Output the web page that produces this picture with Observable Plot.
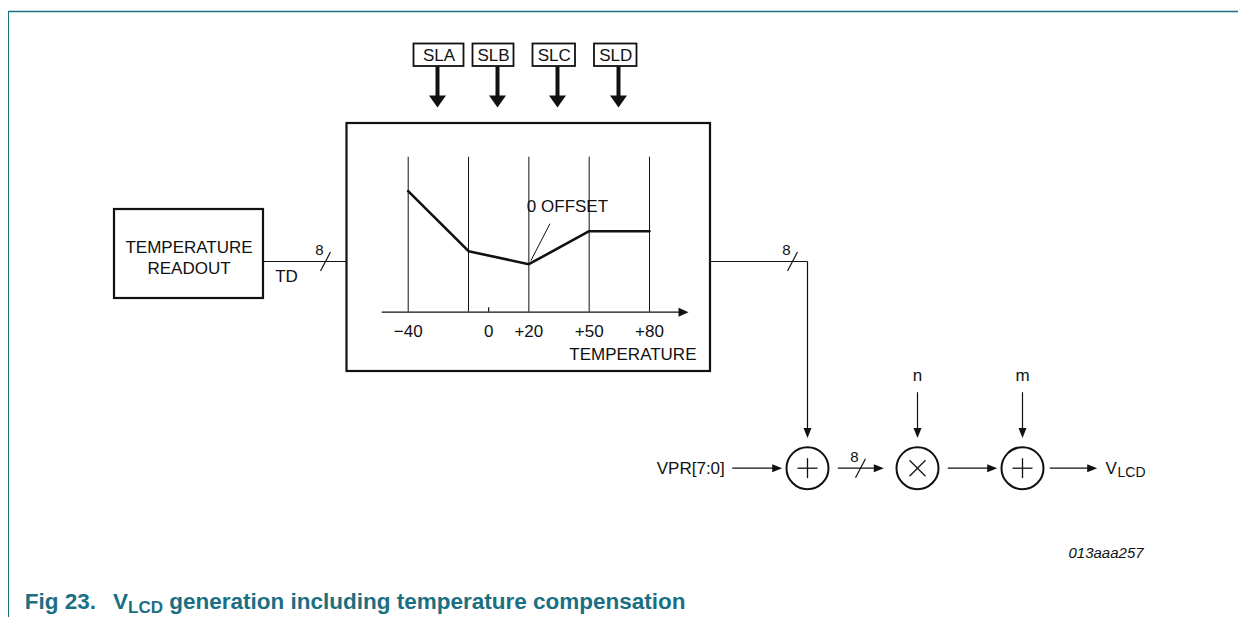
<!DOCTYPE html>
<html>
<head>
<meta charset="utf-8">
<script src="https://cdn.jsdelivr.net/npm/d3@7"></script>
<script src="https://cdn.jsdelivr.net/npm/@observablehq/plot@0.6"></script>
<style>
  body { margin: 0; background: #fff; }
  #wrap { position: relative; width: 1238px; height: 617px; overflow: hidden; font-family: "Liberation Sans", Arial, Helvetica, sans-serif; }
  #outer { position: absolute; left: 0; top: 0; }
  #inner { position: absolute; left: 350px; top: 140px; }
  #leftRule { position: absolute; left: 8.25px; top: 11px; width: 0; height: 606px; border-left: 1.5px solid #1b6f82; }
  #caption { position: absolute; left: 9.75px; top: 585px; height: 32px; box-sizing: border-box;
             padding: 6px 0 0 15px; color: #1b6f82;
             font-weight: bold; font-size: 22.5px; line-height: 22px; white-space: nowrap; }
  #caption .sub { font-size: 17px; position: relative; top: 4px; }
  #caption .gap { display: inline-block; width: 17px; }
</style>
</head>
<body>
<div id="wrap">
  <div id="outer"></div>
  <div id="inner"></div>
  <div id="leftRule"></div>
  <div id="caption">Fig 23.<span class="gap"></span>V<span class="sub">LCD</span> generation including temperature compensation</div>
</div>
<script>
// ---------------- data ----------------
const slLabels = ["SLA", "SLB", "SLC", "SLD"];
const readoutLabel = "TEMPERATURE\nREADOUT";
const busLabel = "TD";
const busWidths = ["8", "8", "8"];
const inputLabels = ["VPR[7:0]", "n", "m"];
const operators = ["plus", "times", "plus"];
const outputLabel = ["V", "LCD"];
const figureId = "013aaa257";

// compensation curve: breakpoints (°C) and offset (arbitrary units)
const tempBreaks = [-40, -10, 20, 50, 80];
const compensation = [121, 61, 48, 81, 81];
const tempTicks = [-40, 0, 20, 50, 80];
const tempTickLabels = ["\u221240", "0", "+20", "+50", "+80"];
const axisTitle = "TEMPERATURE";
const zeroOffsetLabel = "0 OFFSET";

// ---------------- layout (pixels) ----------------
const INK = "#111";
const TEAL = "#1b6f82";
const FONT = '"Liberation Sans", Arial, Helvetica, sans-serif';
const W = 1238, H = 585;

const slBoxX1 = [413.5, 472.5, 532.5, 594];
const slBoxX2 = [463.5, 513.5, 575, 636.5];
const slArrowX = [437, 497, 557, 618];
const slBoxY1 = 43.5, slBoxY2 = 66, slTipY = 107;

const mainBox = {x1: 346.5, y1: 123, x2: 710, y2: 371};
const readBox = {x1: 114, y1: 209, x2: 263, y2: 298};
const busY = 261, rowY = 467.7, outX = 807;
const opX = [807, 917, 1022];
const opR = 21;

const slTable = slLabels.map((s, i) => ({label: s, x1: slBoxX1[i], x2: slBoxX2[i], y1: slBoxY1, y2: slBoxY2, ax: slArrowX[i], cx: (slBoxX1[i] + slBoxX2[i]) / 2}));
const boxes = [mainBox, readBox];

const wires = [
  {x1: readBox.x2, y1: busY, x2: mainBox.x1, y2: busY},
  {x1: mainBox.x2, y1: busY, x2: outX, y2: busY},
  {x1: outX, y1: busY, x2: outX, y2: 430},
  {x1: 731.7, y1: rowY, x2: 775, y2: rowY},
  {x1: 837.3, y1: rowY, x2: 876, y2: rowY},
  {x1: 947.3, y1: rowY, x2: 990, y2: rowY},
  {x1: 1049.3, y1: rowY, x2: 1090, y2: rowY},
  {x1: opX[1], y1: 391.7, x2: opX[1], y2: 430},
  {x1: opX[2], y1: 391.7, x2: opX[2], y2: 430}
];

function tri(tx, ty, dir, L, Wd, id) {
  if (dir === "right") return [[tx, ty], [tx - L, ty - Wd], [tx - L, ty + Wd]].map(p => ({x: p[0], y: p[1], id}));
  return [[tx, ty], [tx - Wd, ty - L], [tx + Wd, ty - L]].map(p => ({x: p[0], y: p[1], id}));
}
const heads = [
  ...tri(781.7, rowY, "right", 10, 4, "h1"),
  ...tri(883.3, rowY, "right", 10, 4, "h2"),
  ...tri(996.7, rowY, "right", 10, 4, "h3"),
  ...tri(1096.7, rowY, "right", 10, 4, "h4"),
  ...tri(outX, 437.5, "down", 10, 4, "h5"),
  ...tri(opX[1], 437.5, "down", 10, 4, "h6"),
  ...tri(opX[2], 437.5, "down", 10, 4, "h7"),
  ...slTable.flatMap((d, i) => tri(d.ax, slTipY, "down", 12, 8.5, "s" + i))
];

const slashCenters = [{cx: 325, cy: busY}, {cx: 792, cy: busY}, {cx: 860, cy: rowY}];
const slashes = slashCenters.map(d => ({x1: d.cx - 5, y1: d.cy + 9.5, x2: d.cx + 5, y2: d.cy - 9.5}));
const slashLabels = slashCenters.map((d, i) => ({x: d.cx - 6, y: d.cy - 11.5, t: busWidths[i]}));

const ops = operators.map((o, i) => ({op: o, x: opX[i], y: rowY}));
const opStrokes = ops.flatMap(d => d.op === "plus"
  ? [{x1: d.x - 10, y1: d.y, x2: d.x + 10, y2: d.y}, {x1: d.x, y1: d.y - 10, x2: d.x, y2: d.y + 10}]
  : [{x1: d.x - 8, y1: d.y - 8, x2: d.x + 8, y2: d.y + 8}, {x1: d.x - 8, y1: d.y + 8, x2: d.x + 8, y2: d.y - 8}]);

const sideInputs = [
  {x: opX[1], y: 375, t: inputLabels[1]},
  {x: opX[2], y: 375, t: inputLabels[2]}
];

const outer = Plot.plot({
  width: W, height: H,
  marginTop: 0, marginRight: 0, marginBottom: 0, marginLeft: 0,
  x: {domain: [0, W], range: [0, W], axis: null},
  y: {domain: [0, H], range: [0, H], axis: null},
  style: {fontFamily: FONT, fontSize: "17px", background: "white", color: INK},
  marks: [
    // frame (top rule; left rule is drawn by the page so it runs past the caption)
    Plot.ruleY([11], {x1: 8.25, x2: W, stroke: TEAL, strokeWidth: 1.5}),
    // blocks
    Plot.rect(boxes, {x1: "x1", y1: "y1", x2: "x2", y2: "y2", fill: "white", stroke: INK, strokeWidth: 2.2}),
    Plot.rect(slTable, {x1: "x1", y1: "y1", x2: "x2", y2: "y2", fill: "white", stroke: INK, strokeWidth: 1.8}),
    Plot.text(slTable, {x: "cx", y: 55, text: "label", fontSize: 17, fill: INK}),
    Plot.link(slTable, {x1: "ax", y1: slBoxY2, x2: "ax", y2: slTipY - 10, stroke: INK, strokeWidth: 4}),
    Plot.text([readoutLabel], {x: (readBox.x1 + readBox.x2) / 2, y: 256.5, text: d => d, fontSize: 17, lineHeight: 1.22, fill: INK}),
    // wires
    Plot.link(wires, {x1: "x1", y1: "y1", x2: "x2", y2: "y2", stroke: INK, strokeWidth: 1.2}),
    Plot.line(heads, {x: "x", y: "y", z: "id", fill: INK, stroke: "none", curve: "linear-closed"}),
    Plot.link(slashes, {x1: "x1", y1: "y1", x2: "x2", y2: "y2", stroke: INK, strokeWidth: 1.2}),
    Plot.text(slashLabels, {x: "x", y: "y", text: "t", fontSize: 15, fill: INK}),
    Plot.text([busLabel], {x: 286, y: 276, text: d => d, fontSize: 17, fill: INK}),
    // operators
    Plot.dot(ops, {x: "x", y: "y", r: opR, fill: "white", stroke: INK, strokeWidth: 2}),
    Plot.link(opStrokes, {x1: "x1", y1: "y1", x2: "x2", y2: "y2", stroke: INK, strokeWidth: 1.3}),
    Plot.text([inputLabels[0]], {x: 724.3, y: rowY, text: d => d, textAnchor: "end", fontSize: 17, fill: INK}),
    Plot.text(sideInputs, {x: "x", y: "y", text: "t", fontSize: 17, fill: INK}),
    Plot.text([outputLabel[0]], {x: 1105, y: rowY, text: d => d, textAnchor: "start", fontSize: 17, fill: INK}),
    Plot.text([outputLabel[1]], {x: 1117, y: rowY + 4.5, text: d => d, textAnchor: "start", fontSize: 14, fill: INK}),
    Plot.text([figureId], {x: 1068, y: 552.7, text: d => d, textAnchor: "start", fontSize: 15, fontStyle: "italic", fill: INK})
  ]
});
document.getElementById("outer").appendChild(outer);

// ---------------- inner compensation chart ----------------
const curve = tempBreaks.map((t, i) => ({t, v: compensation[i]}));
const tickLabel = new Map(tempTicks.map((t, i) => [t, tempTickLabels[i]]));
const xr = [57.7, 299];                 // pixel range for -40 .. +80 inside inner svg
const pxPerDeg = (xr[1] - xr[0]) / 120;
const axisStart = -40 - 26 / pxPerDeg;  // axis line begins 26 px left of -40
const axisTip = 80 + 39 / pxPerDeg;     // arrow tip 39 px right of +80
const arrowHead = [[axisTip, 0], [axisTip - 10 / pxPerDeg, 4.5], [axisTip - 10 / pxPerDeg, -4.5]].map(p => ({x: p[0], y: p[1]}));

const inner = Plot.plot({
  width: 355, height: 235,
  marginTop: 16.7, marginBottom: 63.3, marginLeft: 0, marginRight: 0,
  x: {domain: [-40, 80], range: xr, ticks: tempTicks, tickFormat: d => tickLabel.get(d), tickSize: 0, tickPadding: 13, label: null},
  y: {domain: [0, 155], range: [171.7, 16.7], axis: null},
  style: {fontFamily: FONT, fontSize: "17px", background: "transparent", overflow: "visible", color: INK},
  marks: [
    Plot.ruleX(tempBreaks, {y1: 0, y2: 155, stroke: INK, strokeWidth: 1}),
    Plot.ruleX([0], {y1: 0, y2: 4.5, stroke: INK, strokeWidth: 1.2}),
    Plot.ruleY([0], {x1: axisStart, x2: axisTip - 5 / pxPerDeg, stroke: INK, strokeWidth: 1.3}),
    Plot.line(arrowHead, {x: "x", y: "y", fill: INK, stroke: "none", curve: "linear-closed"}),
    Plot.line(curve, {x: "t", y: "v", stroke: INK, strokeWidth: 2.6, strokeLinejoin: "miter"}),
    Plot.link([{x1: 30.5, y1: 88.5, x2: 21, y2: 51.5}], {x1: "x1", y1: "y1", x2: "x2", y2: "y2", stroke: INK, strokeWidth: 1}),
    Plot.text([zeroOffsetLabel], {x: 39.2, y: 106, text: d => d, fontSize: 17, fill: INK}),
    Plot.text([axisTitle], {x: 80 + 47 / pxPerDeg, y: -41.9, text: d => d, textAnchor: "end", fontSize: 17, fill: INK})
  ]
});
document.getElementById("inner").appendChild(inner);
</script>
</body>
</html>
